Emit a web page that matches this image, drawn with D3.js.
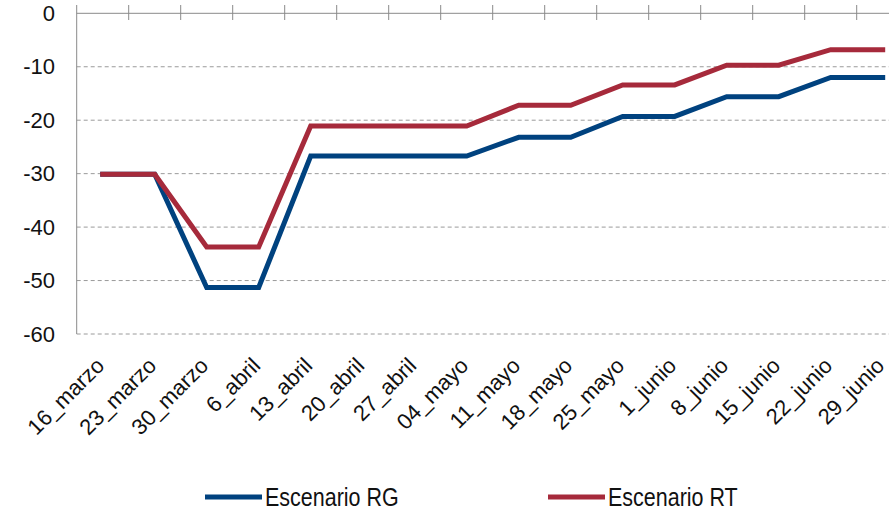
<!DOCTYPE html>
<html>
<head>
<meta charset="utf-8">
<script src="https://cdn.jsdelivr.net/npm/d3@7"></script>
<style>
  body { margin: 0; background: #fff; }
  svg { display: block; font-family: 'Liberation Sans', Arial, sans-serif; }
</style>
</head>
<body>
<div id="chart"></div>
<script>
const categories = ['16_marzo', '23_marzo', '30_marzo', '6_abril', '13_abril', '20_abril', '27_abril', '04_mayo',
  '11_mayo', '18_mayo', '25_mayo', '1_junio', '8_junio', '15_junio', '22_junio', '29_junio']
const rgValues = [-30.1, -30.1, -51.3, -51.3, -26.7, -26.7, -26.7, -26.7,
  -23.2, -23.2, -19.3, -19.3, -15.6, -15.6, -12.0, -12.0]
const rtValues = [-30.1, -30.1, -43.7, -43.7, -21.1, -21.1, -21.1, -21.1,
  -17.2, -17.2, -13.4, -13.4, -9.7, -9.7, -6.8, -6.8]
const yTicks = [0, -10, -20, -30, -40, -50, -60]
const seriesNames = ['Escenario RG', 'Escenario RT']

const width = 889
const height = 510
const plotLeft = 76.7
const bandW = 52

const svg = d3
  .select('#chart')
  .append('svg')
  .attr('width', width)
  .attr('height', height)

const x = d3.scaleBand()
  .domain(categories)
  .range([plotLeft, plotLeft + bandW * categories.length])

const y = d3.scaleLinear().domain([-60, 0]).range([334, 13.3])

// dashed gridlines
svg.append('g')
  .selectAll('line')
  .data(yTicks.filter(d => d !== 0))
  .enter()
  .append('line')
  .attr('x1', plotLeft)
  .attr('x2', width)
  .attr('y1', d => y(d))
  .attr('y2', d => y(d))
  .attr('stroke', '#9a9a9a')
  .attr('stroke-width', 1)
  .attr('stroke-dasharray', '4,3')

// y labels
svg.append('g')
  .selectAll('text')
  .data(yTicks)
  .enter()
  .append('text')
  .attr('x', 55)
  .attr('y', d => y(d))
  .attr('dy', '0.35em')
  .attr('text-anchor', 'end')
  .attr('fill', '#111')
  .style('font-size', '22px')
  .text(d => d)

// y axis line
svg.append('line')
  .attr('x1', plotLeft).attr('x2', plotLeft)
  .attr('y1', 5).attr('y2', y(-60))
  .attr('stroke', '#8a8a8a')

// category axis along the zero line, ticks between categories
svg.append('line')
  .attr('x1', plotLeft).attr('x2', width)
  .attr('y1', y(0)).attr('y2', y(0))
  .attr('stroke', '#8a8a8a')

svg.append('g')
  .selectAll('line')
  .data(categories.slice(1))
  .enter()
  .append('line')
  .attr('x1', d => x(d)).attr('x2', d => x(d))
  .attr('y1', 5).attr('y2', 20)
  .attr('stroke', '#8a8a8a')

// rotated category labels
svg.append('g')
  .selectAll('text')
  .data(categories)
  .enter()
  .append('text')
  .attr('text-anchor', 'end')
  .attr('transform', d => `translate(${x(d) + x.bandwidth() / 2 + 3},${367}) rotate(-45)`)
  .attr('fill', '#111')
  .style('font-size', '22px')
  .text(d => d)

const line = d3.line()
  .x((d, i) => x(categories[i]) + x.bandwidth() / 2)
  .y(d => y(d))

const colors = ['#00427f', '#a62a3b']

svg.selectAll('.series')
  .data([rgValues, rtValues])
  .enter()
  .append('path')
  .attr('class', 'series')
  .attr('d', line)
  .attr('fill', 'none')
  .attr('stroke', (d, i) => colors[i])
  .attr('stroke-width', 5)
  .attr('stroke-linecap', 'square')
  .attr('stroke-linejoin', 'miter')

// legend
const legend = svg.append('g').attr('class', 'legend')
const legendX = [205, 548]

legend.selectAll('.legend-row')
  .data(seriesNames)
  .enter()
  .append('g')
  .attr('class', 'legend-row')
  .attr('transform', (d, i) => `translate(${legendX[i]},497)`)
  .each(function(d, i) {
    const g = d3.select(this)
    g.append('line')
      .attr('x1', 0).attr('x2', 57)
      .attr('y1', 0).attr('y2', 0)
      .attr('stroke', colors[i])
      .attr('stroke-width', 5)
    // condensed look: squeeze the regular face horizontally
    g.append('text')
      .attr('transform', 'translate(60,0) scale(0.86,1)')
      .attr('dy', '0.36em')
      .attr('fill', '#111')
      .style('font-size', '25px')
      .text(d)
  })
</script>
</body>
</html>
